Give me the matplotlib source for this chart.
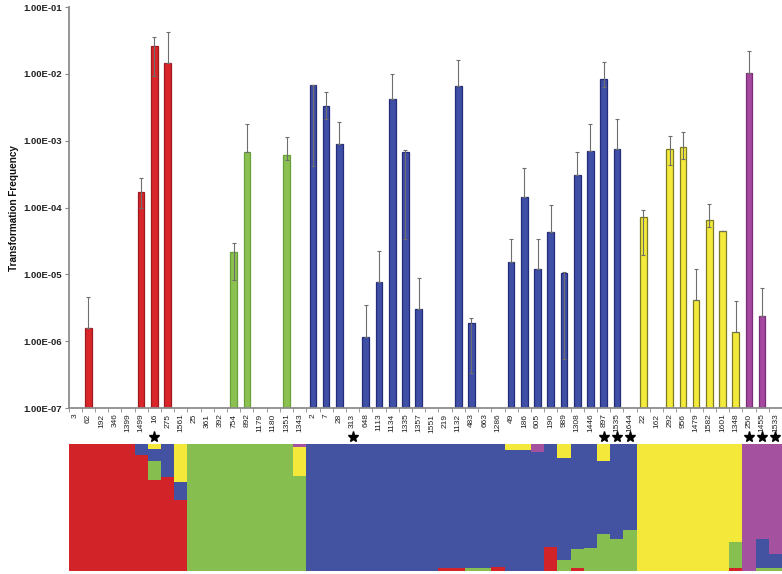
import numpy as np
import matplotlib
matplotlib.use("Agg")
import matplotlib.pyplot as plt
from matplotlib.transforms import blended_transform_factory
from matplotlib.ticker import FixedLocator, FuncFormatter

plt.rcParams['font.family'] = ['Liberation Sans', 'DejaVu Sans']

# ---------------- data ----------------
isolates = ['3', '62', '192', '346', '1399', '1499', '16', '275', '1561', '25',
            '361', '392', '754', '892', '1179', '1180', '1351', '1343', '2', '7',
            '28', '313', '648', '1113', '1134', '1335', '1357', '1551', '219', '1132',
            '483', '663', '1286', '49', '186', '605', '190', '989', '1308', '1446',
            '897', '1535', '1644', '22', '162', '292', '956', '1479', '1582', '1601',
            '1348', '250', '1455', '1533']

# population group of each isolate (bar colour)
groups = (['red'] * 9 + ['green'] * 9 + ['blue'] * 25 + ['yellow'] * 8 + ['purple'] * 3)

nan = np.nan
freq = [nan, 1.55e-6, nan, nan, nan, 1.73e-4, 2.59e-2, 1.46e-2, nan, nan,
        nan, nan, 2.19e-5, 6.76e-4, nan, nan, 6.1e-4, nan, 6.7e-3, 3.29e-3,
        8.8e-4, nan, 1.16e-6, 7.6e-6, 4.24e-3, 6.84e-4, 3.0e-6, nan, nan, 6.55e-3,
        1.86e-6, nan, nan, 1.55e-5, 1.45e-4, 1.19e-5, 4.35e-5, 1.06e-5, 3.03e-4, 7.0e-4,
        8.4e-3, 7.4e-4, nan, 7.2e-5, nan, 7.4e-4, 8.0e-4, 4.1e-6, 6.4e-5, 4.45e-5,
        1.35e-6, 1.04e-2, 2.39e-6, nan]

err_hi = [nan, 4.6e-6, nan, nan, nan, 2.73e-4, 3.53e-2, 4.24e-2, nan, nan,
          nan, nan, 2.99e-5, 1.79e-3, nan, nan, 1.15e-3, nan, 6.9e-3, 5.38e-3,
          1.92e-3, nan, 3.46e-6, 2.24e-5, 1.01e-2, 7.2e-4, 8.7e-6, nan, nan, 1.62e-2,
          2.19e-6, nan, nan, 3.35e-5, 3.94e-4, 3.35e-5, 1.09e-4, 1.08e-5, 6.76e-4, 1.75e-3,
          1.49e-2, 2.13e-3, nan, 9.2e-5, nan, 1.17e-3, 1.34e-3, 1.19e-5, 1.14e-4, 4.5e-5,
          3.93e-6, 2.23e-2, 6.2e-6, nan]

err_lo = [nan, 1.55e-6, nan, nan, nan, 1.0e-4, 9.2e-3, 1.46e-2, nan, nan,
          nan, nan, 8.2e-6, 6.76e-4, nan, nan, 5.2e-4, nan, 4.2e-4, 2.08e-3,
          8.8e-4, nan, 1.16e-6, 7.6e-6, 4.24e-3, 3.35e-5, 3.0e-6, nan, nan, 6.55e-3,
          3.3e-7, nan, nan, 1.55e-5, 1.45e-4, 1.19e-5, 4.35e-5, 5.4e-7, 3.03e-4, 7.0e-4,
          6.4e-3, 7.4e-4, nan, 1.93e-5, nan, 4.3e-4, 5.4e-4, 4.1e-6, 5.1e-5, 4.4e-5,
          1.35e-6, 1.04e-2, 2.39e-6, nan]

starred = ['16', '313', '897', '1535', '1644', '250', '1455', '1533']

yticks = [1e-7, 1e-6, 1e-5, 1e-4, 1e-3, 1e-2, 1e-1]

# structure membership (stacked bottom->top: red, green, blue, yellow, purple)
q_red = [1, 1, 1, 1, 1, 0.913, 0.717, 0.743, 0.559, 0,
         0, 0, 0, 0, 0, 0, 0, 0, 0, 0,
         0, 0, 0, 0, 0, 0, 0, 0, 0.02, 0.02,
         0, 0, 0.03, 0, 0, 0, 0.19, 0, 0.02, 0,
         0, 0, 0, 0, 0, 0, 0, 0, 0, 0,
         0.02, 0, 0, 0]
q_green = [0, 0, 0, 0, 0, 0, 0.152, 0, 0, 1,
           1, 1, 1, 1, 1, 1, 1, 0.75, 0, 0,
           0, 0, 0, 0, 0, 0, 0, 0, 0, 0,
           0.02, 0.02, 0, 0, 0, 0, 0, 0.09, 0.15, 0.18,
           0.29, 0.25, 0.32, 0, 0, 0, 0, 0, 0, 0,
           0.21, 0, 0.02, 0.02]
q_blue = [0, 0, 0, 0, 0, 0.087, 0.089, 0.257, 0.144, 0,
          0, 0, 0, 0, 0, 0, 0, 0, 1, 1,
          1, 1, 1, 1, 1, 1, 1, 1, 0.98, 0.98,
          0.98, 0.98, 0.97, 0.953, 0.953, 0.94, 0.81, 0.80, 0.83, 0.82,
          0.58, 0.75, 0.68, 0, 0, 0, 0, 0, 0, 0,
          0, 0, 0.235, 0.11]
q_yellow = [0, 0, 0, 0, 0, 0, 0.042, 0, 0.297, 0,
            0, 0, 0, 0, 0, 0, 0, 0.225, 0, 0,
            0, 0, 0, 0, 0, 0, 0, 0, 0, 0,
            0, 0, 0, 0.047, 0.047, 0, 0, 0.11, 0, 0,
            0.13, 0, 0, 1, 1, 1, 1, 1, 1, 1,
            0.77, 0, 0, 0]
q_purple = [0, 0, 0, 0, 0, 0, 0, 0, 0, 0,
            0, 0, 0, 0, 0, 0, 0, 0.025, 0, 0,
            0, 0, 0, 0, 0, 0, 0, 0, 0, 0,
            0, 0, 0, 0, 0, 0.06, 0, 0, 0, 0,
            0, 0, 0, 0, 0, 0, 0, 0, 0, 0,
            0, 1, 0.745, 0.87]

# ---------------- styles ----------------
face = {'red': '#d8262b', 'green': '#8cc152', 'blue': '#3f4fa6',
        'yellow': '#f3ea3b', 'purple': '#a5489f'}
edge = {'red': '#9e1a1f', 'green': '#68a03a', 'blue': '#222c78',
        'yellow': '#7d7a25', 'purple': '#7b2c76'}
struct_cols = ['#d22328', '#86bf4f', '#4352a1', '#f4e93a', '#a4519f']

n = len(isolates)
x = np.arange(n)
freq = np.array(freq, dtype=float)
hi = np.array(err_hi, dtype=float)
lo = np.array(err_lo, dtype=float)

W, H = 782, 574
fig = plt.figure(figsize=(W / 100, H / 100), dpi=100, facecolor='white')

left = 68.5
ax = fig.add_axes([left / W, (H - 408) / H, (W - left) / W, (408 - 7) / H])
base = 1e-7
for i in range(n):
    if np.isnan(freq[i]):
        continue
    g = groups[i]
    ax.bar(x[i], freq[i] - base, bottom=base, width=0.5,
           color=face[g], edgecolor=edge[g], linewidth=0.9, zorder=2)
mask = ~np.isnan(freq)
ax.errorbar(x[mask], freq[mask],
            yerr=[freq[mask] - lo[mask], hi[mask] - freq[mask]],
            fmt='none', ecolor='#6e6e6e', elinewidth=0.8, capsize=1.5,
            capthick=0.8, zorder=3)

ax.set_yscale('log')
ax.set_ylim(1e-7, 1e-1)
ax.set_xlim(-0.5, n - 0.5)
ax.yaxis.set_major_locator(FixedLocator(yticks))
ax.yaxis.set_minor_locator(FixedLocator([]))
ax.yaxis.set_major_formatter(FuncFormatter(lambda v, p: f"{v:.2E}"))
for lab in ax.get_yticklabels():
    lab.set_fontweight('bold')
ax.tick_params(axis='y', labelsize=6.8, length=3, width=0.8, color='#888888',
               direction='out', pad=2, labelcolor='#222222')

ax.set_xticks(x)
ax.set_xticklabels(isolates, rotation=90, fontsize=6, color='#222222')
ax.set_xticks(np.arange(-0.5, n, 1.0), minor=True)
ax.tick_params(axis='x', which='major', length=0, pad=4)
ax.tick_params(axis='x', which='minor', length=3, width=0.6, color='#888888',
               direction='out')

for s in ['top', 'right']:
    ax.spines[s].set_visible(False)
for s in ['left', 'bottom']:
    ax.spines[s].set_color('#8c8c8c')
    ax.spines[s].set_linewidth(1.3)

fig.text(14 / W, 1 - 208 / H, 'Transformation Frequency', rotation=90,
         ha='center', va='center', fontsize=7.2, fontweight='bold', color='#111111')

# stars (marker symbols below the labels)
tr = blended_transform_factory(ax.transData, fig.transFigure)
star_x = [x[isolates.index(lab)] for lab in starred]
ax.plot(star_x, [1 - 437 / H] * len(star_x), linestyle='none', marker='*',
        markersize=8, color='black', transform=tr, clip_on=False)

# structure plot
ax2 = fig.add_axes([left / W, 3 / H, (W - left) / W, 127 / H])
bottom = np.zeros(n)
for q, c in zip([q_red, q_green, q_blue, q_yellow, q_purple], struct_cols):
    q = np.array(q, dtype=float)
    ax2.bar(x, q, bottom=bottom, width=1.0, color=c, linewidth=0)
    bottom += q
ax2.set_xlim(-0.5, n - 0.5)
ax2.set_ylim(0, 1)
ax2.axis('off')

fig.savefig('out.png', dpi=100, facecolor='white')
